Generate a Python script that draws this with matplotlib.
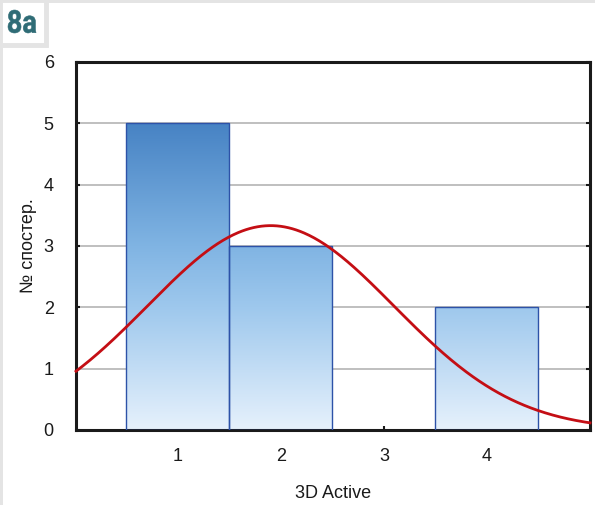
import numpy as np
import matplotlib
matplotlib.use("Agg")
import matplotlib.pyplot as plt
from matplotlib.colors import LinearSegmentedColormap
from matplotlib.patches import Rectangle, PathPatch
from matplotlib.textpath import TextPath
from matplotlib.font_manager import FontProperties
from matplotlib.transforms import Affine2D

# ---- data ----
bin_centers = [1, 2, 3, 4]
counts = [5, 3, 0, 2]
bin_width = 1.0
xticks = [1, 2, 3, 4]
yticks = [0, 1, 2, 3, 4, 5, 6]
xlabel = "3D Active"
ylabel = "№ спостер."
panel_label = "8a"

plt.rcParams['font.family'] = ['Liberation Sans', 'DejaVu Sans']

W, H = 595, 505
fig = plt.figure(figsize=(W / 100, H / 100), dpi=100)
fig.patch.set_facecolor('white')

# outer light gray frame lines (top and left) + label box
frame_col = '#e4e4e4'
fig.add_artist(Rectangle((0, 1 - 3/H), 1, 3/H, transform=fig.transFigure, color=frame_col, lw=0))
fig.add_artist(Rectangle((0, 0), 3/W, 1, transform=fig.transFigure, color=frame_col, lw=0))
fig.add_artist(Rectangle((0, 1 - 45/H), 46/W, 45/H, transform=fig.transFigure,
                         facecolor='white', edgecolor=frame_col, lw=3.5))

# condensed bold panel label via text path (in pixel coordinates)
fp = FontProperties(family='Roboto', weight='bold')
tp = TextPath((0, 0), panel_label, size=30, prop=fp)
bb = tp.get_extents()
sx = 28 / bb.width
sy = 23 / bb.height
tr = Affine2D().translate(-bb.x0, -bb.y0).scale(sx, sy).translate(8, H - 33)
path = tr.transform_path(tp)
fig.add_artist(PathPatch(path, facecolor='#2f6c76', edgecolor='#2f6c76', lw=0.4, transform=None))

ax = fig.add_axes([76/W, 1 - 430/H, (590 - 76)/W, (430 - 62)/H])

# grid
ax.set_yticks(yticks)
ax.set_xticks(xticks)
ax.yaxis.grid(True, color='#b4b4b4', lw=1.2, zorder=0)
ax.set_axisbelow(True)

# gradient bars
cmap = LinearSegmentedColormap.from_list('g', [(0.0, '#e6f1fc'), (0.4, '#9ec8ed'), (0.6, '#80b4e3'), (1.0, '#4783c4')])
grad = np.linspace(0, 1, 256).reshape(-1, 1)
for c, h in zip(bin_centers, counts):
    if h <= 0:
        continue
    x0 = c - bin_width / 2
    rect = Rectangle((x0, 0), bin_width, h, facecolor='none', edgecolor='#2d52a8', lw=1.0, zorder=3)
    ax.add_patch(rect)
    im = ax.imshow(grad, extent=[x0, x0 + bin_width, 0, 5], origin='lower', cmap=cmap,
                   aspect='auto', zorder=2, interpolation='bilinear')
    im.set_clip_path(rect)
ax.set_xlim(0.01, 5.0)
ax.set_ylim(0, 6)

# fitted normal curve
vals = np.repeat(bin_centers, counts)
mu = vals.mean()
sd = vals.std(ddof=1)
xs = np.linspace(0.01, 5.0, 400)
ys = len(vals) * bin_width / (sd * np.sqrt(2 * np.pi)) * np.exp(-0.5 * ((xs - mu) / sd) ** 2)
ax.plot(xs, ys, color='#c40e14', lw=2.0, zorder=4, clip_on=False)

for s in ax.spines.values():
    s.set_linewidth(2.2)
    s.set_color('#1a1a1a')
ax.tick_params(direction='in', length=3, width=1.5, top=False, right=True,
               labelsize=13, colors='#1a1a1a')
ax.tick_params(axis='y', pad=16)
ax.tick_params(axis='x', pad=13)
ax.set_xlabel(xlabel, fontsize=13, labelpad=14, color='#1a1a1a')
ax.set_ylabel(ylabel, fontsize=13, labelpad=5, color='#1a1a1a')

fig.savefig('out.png', dpi=100, facecolor='white')
